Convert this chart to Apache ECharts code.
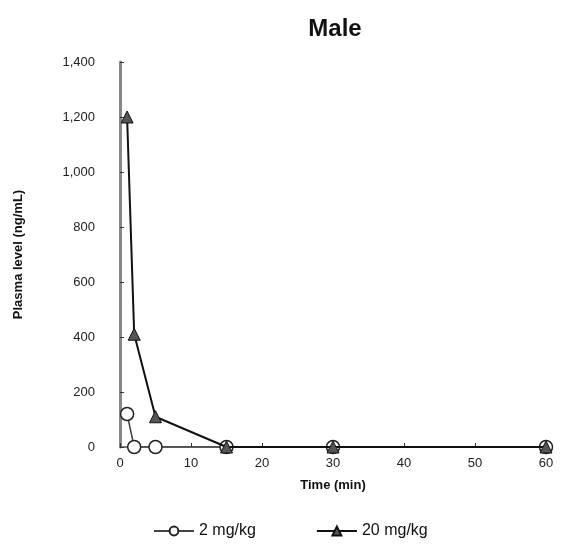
<!DOCTYPE html>
<html>
<head>
<meta charset="utf-8">
<script src="https://cdn.jsdelivr.net/npm/echarts@6/dist/echarts.min.js"></script>
<style>
  html, body { margin: 0; padding: 0; background: #fff; }
  #chart { width: 561px; height: 550px; }
</style>
</head>
<body>
<div id="chart"></div>
<script>
// time points (min) and plasma levels (ng/mL)
const times = [1, 2, 5, 15, 30, 60];
const low = [120, 0, 0, 0, 0, 0];          // 2 mg/kg
const high = [1200, 410, 110, 0, 0, 0];    // 20 mg/kg
const seriesNames = ['2 mg/kg', '20 mg/kg'];

const pair = (vals) => times.map((t, i) => [t, vals[i]]);

const chart = echarts.init(document.getElementById('chart'));

const font = 'Liberation Sans, Arial, sans-serif';

chart.setOption({
    animation: false,
    title: {
        text: 'Male',
        left: 330,
        textAlign: 'center',
        top: 12,
        textStyle: { fontFamily: font, fontSize: 24, fontWeight: 'bold', color: '#111' }
    },
    legend: {
        bottom: 6,
        left: 148,
        itemGap: 60,
        itemWidth: 40,
        itemHeight: 11,
        textStyle: { fontFamily: font, fontSize: 16, color: '#111' },
        data: seriesNames
    },
    grid: { left: 120, right: 15, top: 62, bottom: 103 },
    xAxis: {
        type: 'value',
        min: 0,
        max: 60,
        interval: 10,
        name: 'Time (min)',
        nameLocation: 'middle',
        nameGap: 32,
        nameTextStyle: { fontFamily: font, fontSize: 13, fontWeight: 'bold', color: '#111' },
        axisLine: { lineStyle: { color: '#777', width: 2 } },
        axisTick: { inside: true, length: 4, lineStyle: { color: '#333' } },
        axisLabel: { fontFamily: font, fontSize: 13, color: '#222', margin: 10 },
        splitLine: { show: false }
    },
    yAxis: {
        type: 'value',
        min: 0,
        max: 1400,
        interval: 200,
        name: 'Plasma level (ng/mL)',
        nameLocation: 'middle',
        nameGap: 95,
        nameTextStyle: { fontFamily: font, fontSize: 13, fontWeight: 'bold', color: '#111' },
        axisLine: { show: true, lineStyle: { color: '#888', width: 3 } },
        axisTick: { show: true, inside: true, length: 4, lineStyle: { color: '#333' } },
        axisLabel: {
            fontFamily: font, fontSize: 13, color: '#222', margin: 25,
            formatter: (v) => v.toLocaleString('en-US')
        },
        splitLine: { show: false }
    },
    series: [
        {
            name: seriesNames[0],
            type: 'line',
            data: pair(low),
            symbol: 'circle',
            symbolSize: 13,
            itemStyle: { color: '#fff', borderColor: '#222', borderWidth: 1.5 },
            lineStyle: { color: '#444', width: 1.5 },
            z: 1
        },
        {
            name: seriesNames[1],
            type: 'line',
            data: pair(high),
            symbol: 'triangle',
            symbolSize: 12,
            itemStyle: { color: '#555', borderColor: '#111', borderWidth: 1 },
            lineStyle: { color: '#111', width: 2 },
            z: 3
        }
    ]
});
</script>
</body>
</html>
